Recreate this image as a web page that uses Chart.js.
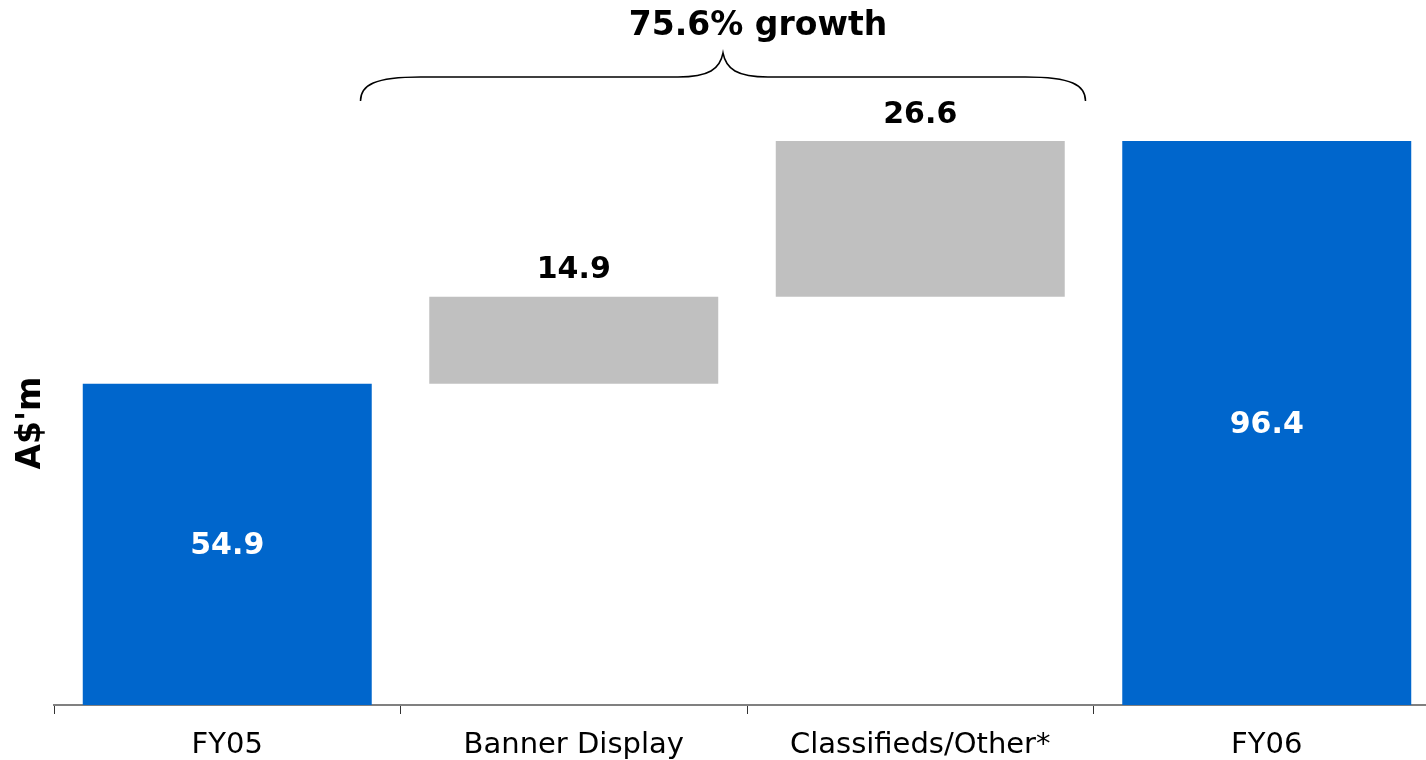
<!DOCTYPE html>
<html>
<head>
<meta charset="utf-8">
<script src="https://cdn.jsdelivr.net/npm/chart.js@4.4.1/dist/chart.umd.min.js"></script>
<style>
    html, body { margin: 0; padding: 0; background: #fff; overflow: hidden; }
    #wrap { width: 1440px; height: 760px; }
</style>
</head>
<body>
<div id="wrap"><canvas id="waterfall"></canvas></div>
<script>
    // Revenue bridge, A$m
    const categories = ['FY05', 'Banner Display', 'Classifieds/Other*', 'FY06'];
    const amounts = [54.9, 14.9, 26.6, 96.4];
    const isTotal = [true, false, false, true];
    const growthLabel = '75.6% growth';

    const BLUE = '#0066cc';
    const GREY = '#c0c0c0';
    const FONT = '"DejaVu Sans", Verdana, sans-serif';

    // Floating ranges: totals start at zero, steps stack on the running sum
    let running = 0;
    const ranges = amounts.map((v, i) =>
    {
        if(isTotal[i])
        {
            running = v;
            return [0, v];
        }
        const r = [running, running + v];
        running += v;
        return r;
    });

    // Value labels: inside the totals, above the steps
    const valueLabels = {
        id: 'valueLabels'
        ,afterDatasetsDraw(chart)
        {
            const ctx = chart.ctx;
            const meta = chart.getDatasetMeta(0);
            ctx.save();
            ctx.font = 'bold 30px ' + FONT;
            ctx.textAlign = 'center';
            ctx.textBaseline = 'middle';
            meta.data.forEach((bar, i) =>
            {
                const text = amounts[i].toFixed(1);
                if(isTotal[i])
                {
                    ctx.fillStyle = '#ffffff';
                    ctx.fillText(text, bar.x, (bar.y + bar.base) / 2 + 2);
                }
                else
                {
                    ctx.fillStyle = '#000000';
                    ctx.fillText(text, bar.x, Math.min(bar.y, bar.base) - 26);
                }
            });
            ctx.restore();
        }
    };

    // Curly brace over the two steps with the growth caption
    const growthBrace = {
        id: 'growthBrace'
        ,afterDraw(chart)
        {
            const ctx = chart.ctx;
            const x = chart.scales.x;
            const left = x.getPixelForValue(0.5) - 40;
            const right = x.getPixelForValue(2.5) - 8;
            const mid = x.getPixelForValue(1.5) - 24;
            const yEnd = 101, yBar = 77, yTip = 53;

            ctx.save();
            ctx.strokeStyle = '#000';
            ctx.lineWidth = 1.5;
            ctx.beginPath();
            ctx.moveTo(left, yEnd);
            ctx.bezierCurveTo(left, yBar + 8, left + 14, yBar, left + 60, yBar);
            ctx.lineTo(mid - 45, yBar);
            ctx.bezierCurveTo(mid - 14, yBar, mid - 3, yBar - 8, mid, yTip);
            ctx.bezierCurveTo(mid + 3, yBar - 8, mid + 14, yBar, mid + 45, yBar);
            ctx.lineTo(right - 60, yBar);
            ctx.bezierCurveTo(right - 14, yBar, right, yBar + 8, right, yEnd);
            ctx.stroke();

            ctx.font = 'bold 33px ' + FONT;
            ctx.fillStyle = '#000';
            ctx.textAlign = 'center';
            ctx.textBaseline = 'middle';
            ctx.fillText(growthLabel, mid + 35, 26);
            ctx.restore();
        }
    };

    new Chart(document.getElementById('waterfall'),
    {
        type: 'bar'
        ,data: {
            labels: categories
            ,datasets: [
                {
                    data: ranges
                    ,backgroundColor: isTotal.map(t => t ? BLUE : GREY)
                    ,borderWidth: 0
                    ,borderSkipped: false
                    ,barPercentage: 0.834
                    ,categoryPercentage: 1
                }
            ]
        }
        ,options: {
            responsive: true
            ,maintainAspectRatio: false
            ,animation: false
            ,layout: {padding: {top: 141, left: 0, right: 0, bottom: 0}}
            ,plugins: {
                legend: {display: false}
                ,tooltip: {enabled: false}
            }
            ,scales: {
                x: {
                    grid: {
                        display: true
                        ,offset: true
                        ,drawOnChartArea: false
                        ,drawTicks: true
                        ,tickLength: 9
                        ,color: '#333'
                    }
                    ,border: {display: true, color: '#808080', width: 2}
                    ,ticks: {
                        color: '#000'
                        ,font: {family: FONT, size: 29}
                        ,padding: 14
                        ,maxRotation: 0
                    }
                    ,afterFit(scale) { scale.height = 55; }
                }
                ,y: {
                    min: 0
                    ,max: amounts[3]
                    ,grid: {display: false}
                    ,border: {display: false}
                    ,ticks: {display: false}
                    ,title: {
                        display: true
                        ,text: "A$'m"
                        ,color: '#000'
                        ,font: {family: FONT, size: 33, weight: 'bold'}
                        ,padding: {top: 12, bottom: 0}
                    }
                    ,afterFit(scale) { scale.width = 54; }
                }
            }
        }
        ,plugins: [valueLabels, growthBrace]
    });
</script>
</body>
</html>
